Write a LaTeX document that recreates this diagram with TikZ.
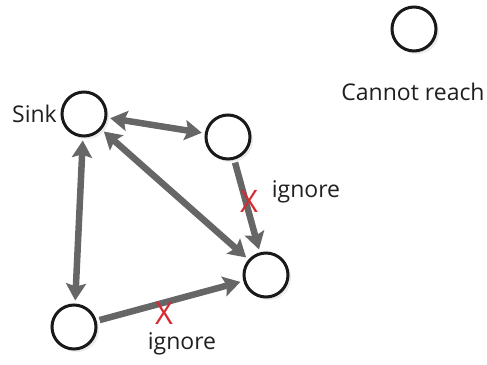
\documentclass[tikz,border=0pt]{standalone}
\usepackage{fontspec}
\setmainfont{Open Sans}
\usetikzlibrary{arrows.meta,shadows}

\definecolor{edgegray}{HTML}{666666}
\definecolor{crossred}{HTML}{D42A32}

\tikzset{
    station/.style={circle, draw=black!90, line width=3pt, fill=white, minimum size=44pt, inner sep=0pt,
        drop shadow={opacity=0.15, shadow xshift=3pt, shadow yshift=-3pt}},
    link/.style={line width=6.5pt, draw=edgegray, shorten <=3pt, shorten >=3pt,
        arrows={-Stealth[length=17pt, width=20pt, inset=3pt]}},
    dlink/.style={link, arrows={Stealth[length=17pt, width=20pt, inset=3pt]-Stealth[length=17pt, width=20pt, inset=3pt]}},
    cross/.style={text=crossred, font=\fontsize{31pt}{31pt}\selectfont, inner sep=0pt},
    lbl/.style={font=\fontsize{23pt}{27pt}\selectfont, text=black!88, inner sep=0pt}
}

\begin{document}
\begin{tikzpicture}[x=1pt, y=-1pt]
    \useasboundingbox (0,0) rectangle (487,364);

    \node[station](sink) at (84,114){};
    \node[station](top) at (228,137){};
    \node[station](far) at (414,29){};
    \node[station](right) at (266,275){};
    \node[station](left) at (74,327){};

    \node[lbl, anchor=east] at (57,114){Sink};
    \node[lbl] at (413,92){Cannot reach};

    \draw[dlink](sink)--(top);
    \draw[dlink](sink)--(right);
    \draw[dlink](sink)--(left);
    \draw[link](top)--(right);
    \draw[link](left)--(right);

    \node[cross] at (249,201){X};
    \node[lbl] at (306,192){ignore};
    \node[cross] at (164,313){X};
    \node[lbl] at (182,344){ignore};
\end{tikzpicture}
\end{document}
